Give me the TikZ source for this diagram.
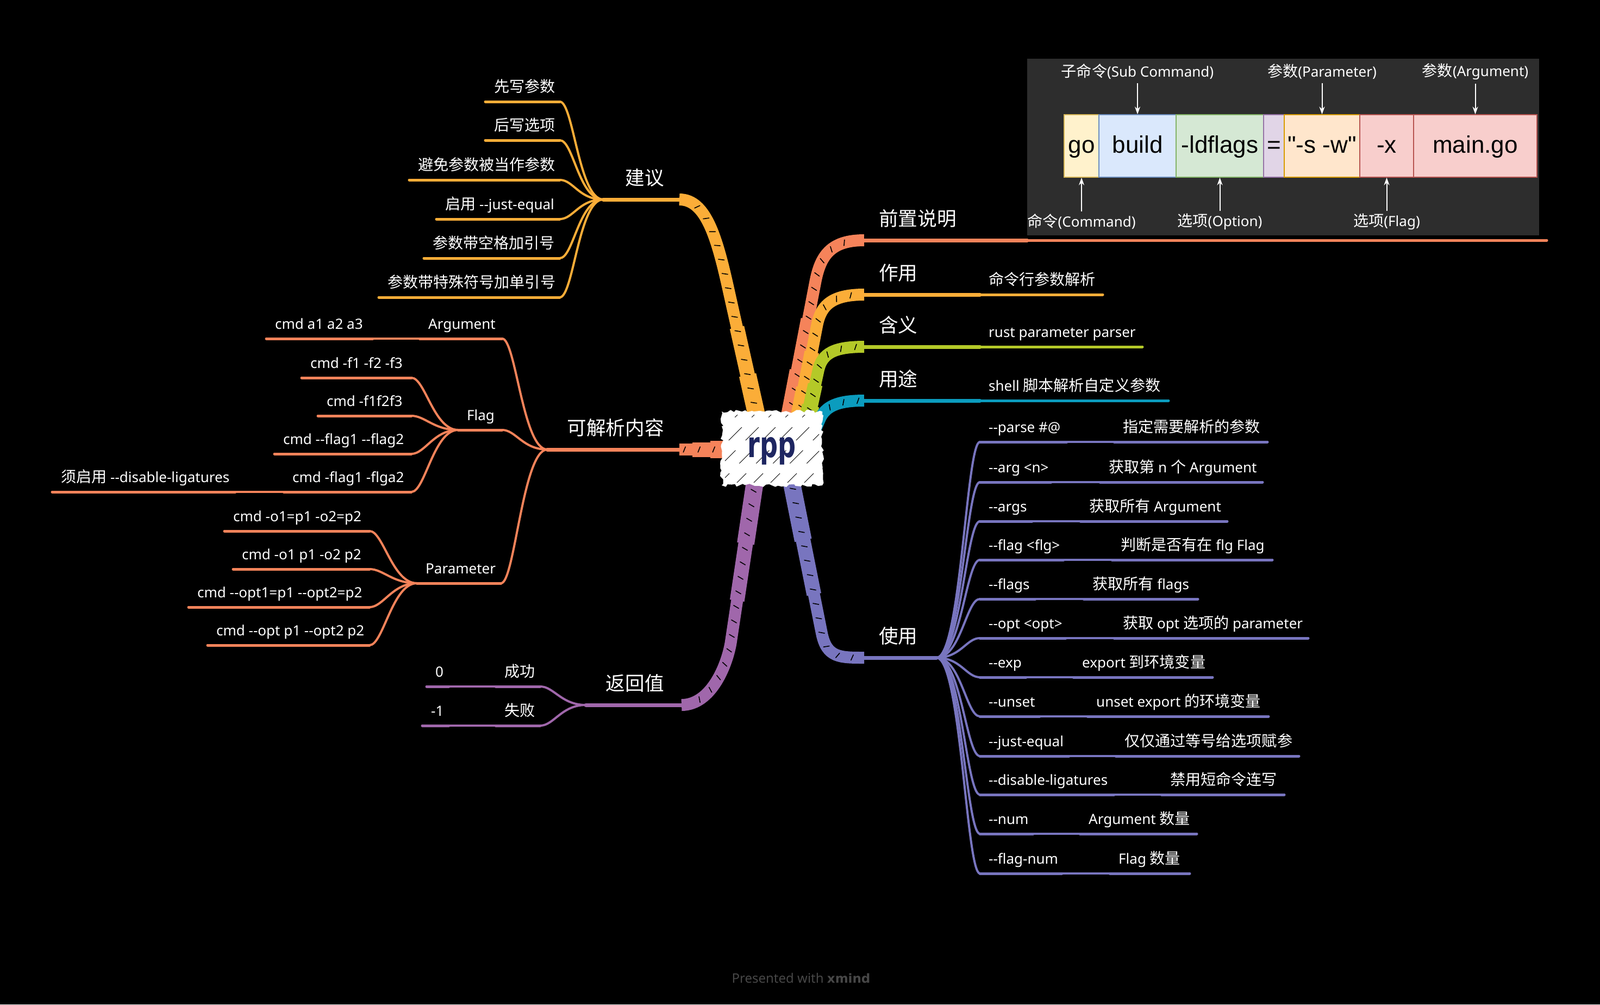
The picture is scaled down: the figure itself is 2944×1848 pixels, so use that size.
\documentclass[tikz,border=0pt]{standalone}
\usepackage{fontspec}
\usetikzlibrary{arrows.meta,calc,decorations.pathmorphing,decorations.markings}
\newfontfamily\lat{Noto Sans}
\newfontfamily\boldf{DejaVu Sans}
\newfontfamily\zhf{Noto Sans CJK SC}[Scale=1.08]
\newfontfamily\ari{Liberation Sans}
\newcommand\zhc[1]{{\zhf #1}}
\definecolor{cRed}{HTML}{F5835A}
\definecolor{cOrg}{HTML}{FBAD38}
\definecolor{cGrn}{HTML}{B4C928}
\definecolor{cTeal}{HTML}{0B9CBE}
\definecolor{cBlu}{HTML}{7875BF}
\definecolor{cPur}{HTML}{A067AB}
\definecolor{navy}{HTML}{1E2661}
\definecolor{imgbg}{HTML}{2D2D2D}
\definecolor{footgray}{HTML}{474747}
\definecolor{goF}{HTML}{FFF2CC}\definecolor{goD}{HTML}{D6B656}
\definecolor{buF}{HTML}{DAE8FC}\definecolor{buD}{HTML}{6C8EBF}
\definecolor{ldF}{HTML}{D5E8D4}\definecolor{ldD}{HTML}{82B366}
\definecolor{eqF}{HTML}{E1D5E7}\definecolor{eqD}{HTML}{9673A6}
\definecolor{swF}{HTML}{FFE6CC}\definecolor{swD}{HTML}{D79B00}
\definecolor{rdF}{HTML}{F8CECC}\definecolor{rdD}{HTML}{B85450}
\tikzset{
  leaf/.style={font=\lat\fontsize{26}{30}\selectfont,text=white,inner sep=0pt},
  topic/.style={font=\lat\fontsize{33}{38}\selectfont,text=white,inner sep=0pt},
  lline/.style={line width=5pt,line cap=round},
  tline/.style={line width=7pt,line cap=round},
  conn/.style={line width=4pt},
  thickb/.style={line width=22pt,line join=round},
  ticks/.style={postaction={decorate,decoration={markings,mark=between positions 0.05 and 0.95 step 27pt with {\draw[black,line width=1.6pt,line cap=round] (-2pt,-5pt)--(2pt,5pt);}}}},
  cell/.style={minimum height=115pt,inner sep=0pt,line width=1.5pt,font=\ari\fontsize{44}{50}\selectfont,text=black,text height=34pt,text depth=9pt},
  imglab/.style={font=\lat\fontsize{26}{30}\selectfont,text=white,inner sep=0pt},
  arr/.style={draw=white,line width=2pt,-{Stealth[length=14pt,width=10pt]}},
}
\newcommand\leafnode[6]{%
  \coordinate (#1-l) at (#2,#4);
  \coordinate (#1-r) at (#3,#4);
  \draw[lline,#5] (#1-l) -- (#1-r);
  \node[leaf,anchor=base west] (#1) at ({#2+16},{#4-18}) {#6};
}
% tapered base of a main branch: colour, start, end of straight part
\newcommand\taperb[3]{%
  \draw[line width=32pt,#1] (#2) -- ($(#2)!0.4!(#3)$);
  \draw[line width=27pt,#1] (#2) -- ($(#2)!0.75!(#3)$);
}
% right-side row of "使用": id, child end, gc start, gc end, y, label, gc label
\newcommand\syrow[7]{%
  \leafnode{sy#1}{1803}{#2}{#5}{cBlu}{#6}
  \leafnode{syg#1}{#3}{#4}{#5}{cBlu}{#7}
  \draw[conn,cBlu] (sy-fork) .. controls +(45,0) and +(-25,0) .. (sy#1-l);
  \draw[conn,cBlu] (sy#1-r) -- (syg#1-l);
}
\begin{document}
\begin{tikzpicture}[x=1pt,y=-1pt]
\fill[black] (0,0) rectangle (2944,1848);
\useasboundingbox (0,0) rectangle (2944,1848);

% ================= main thick branches =================
% 前置说明
\coordinate (qz-0) at (1448,790); \coordinate (qz-1) at (1500,520);
\coordinate (qz-end) at (1590,442);
\taperb{cRed}{qz-0}{qz-1}
\draw[thickb,cRed,ticks] (qz-0) -- (qz-1) .. controls (1509,472) and (1527,442) .. (qz-end);
% 作用
\coordinate (zy-0) at (1466,790); \coordinate (zy-1) at (1503,600);
\coordinate (zy-end) at (1590,542);
\taperb{cOrg}{zy-0}{zy-1}
\draw[thickb,cOrg,ticks] (zy-0) -- (zy-1) .. controls (1510,562) and (1530,542) .. (zy-end);
% 含义
\coordinate (hy-0) at (1482,790); \coordinate (hy-1) at (1506,680);
\coordinate (hy-end) at (1590,638);
\taperb{cGrn}{hy-0}{hy-1}
\draw[thickb,cGrn,ticks] (hy-0) -- (hy-1) .. controls (1513,650) and (1535,638) .. (hy-end);
% 用途
\coordinate (yt-0) at (1496,800); \coordinate (yt-1) at (1508,772);
\coordinate (yt-end) at (1590,737);
\draw[thickb,cTeal,ticks] (yt-0) -- (yt-1) .. controls (1518,748) and (1540,737) .. (yt-end);
% 建议
\coordinate (jy-0) at (1398,790); \coordinate (jy-1) at (1342,540);
\coordinate (jy-end) at (1250,367);
\taperb{cOrg}{jy-0}{jy-1}
\draw[thickb,cOrg,ticks] (jy-0) -- (jy-1) .. controls (1320,440) and (1300,367) .. (jy-end);
% 可解析内容
\coordinate (kj-0) at (1345,827);
\coordinate (kj-end) at (1250,827);
\taperb{cRed}{kj-0}{kj-end}
\draw[thickb,cRed,ticks] (kj-0) -- (kj-end);
% 返回值
\coordinate (fh-0) at (1390,880); \coordinate (fh-1) at (1345,1180);
\coordinate (fh-end) at (1254,1297);
\taperb{cPur}{fh-0}{fh-1}
\draw[thickb,cPur,ticks] (fh-0) -- (fh-1) .. controls (1339,1220) and (1310,1297) .. (fh-end);
% 使用
\coordinate (sy-0) at (1455,880); \coordinate (sy-1) at (1512,1165);
\coordinate (sy-end) at (1590,1210);
\taperb{cBlu}{sy-0}{sy-1}
\draw[thickb,cBlu,ticks] (sy-0) -- (sy-1) .. controls (1521,1210) and (1545,1210) .. (sy-end);

% ================= root =================
\fill[white,decorate,decoration={random steps,segment length=6pt,amplitude=3pt}] (1328,757) rectangle (1513,893);
\begin{scope}
  \clip (1334,763) rectangle (1507,887);
  \foreach \k in {0,...,10} \draw[black,line width=0.8pt,dash pattern=on 34pt off 26pt] ({1225+\k*31},895) -- ++(150,-150);
\end{scope}
\node[font=\boldf\bfseries\fontsize{66}{70}\selectfont,text=navy,anchor=base,inner sep=0pt] (root) at (1420,841) {\scalebox{0.7}[1]{rpp}};

% ================= topic labels =================
\node[topic,anchor=base west] (t-qz) at (1617,415) {\zhc{前置说明}};
\node[topic,anchor=base west] (t-zy) at (1617,515) {\zhc{作用}};
\node[topic,anchor=base west] (t-hy) at (1617,611) {\zhc{含义}};
\node[topic,anchor=base west] (t-yt) at (1617,710) {\zhc{用途}};
\node[topic,anchor=base west] (t-sy) at (1617,1183) {\zhc{使用}};
\node[topic,anchor=base east] (t-jy) at (1222,340) {\zhc{建议}};
\node[topic,anchor=base east] (t-kj) at (1222,800) {\zhc{可解析内容}};
\node[topic,anchor=base east] (t-fh) at (1222,1270) {\zhc{返回值}};

% ================= 前置说明 : image =================
\coordinate (img-l) at (1890,442);
\coordinate (img-r) at (2846,442);
\draw[tline,cRed] (qz-end) -- (img-l);
\draw[lline,cRed] (img-l) -- (img-r);
\node[fill=imgbg,minimum width=942pt,minimum height=325pt,inner sep=0pt,anchor=north west] (imgbox) at (1890,108) {};
\node[cell,draw=goD,fill=goF,minimum width=64pt] (cgo) at (1990,268.5) {go};
\node[cell,draw=buD,fill=buF,minimum width=142pt] (cbuild) at (2093,268.5) {build};
\node[cell,draw=ldD,fill=ldF,minimum width=161pt] (cld) at (2244.5,268.5) {-ldflags};
\node[cell,draw=eqD,fill=eqF,minimum width=38pt] (ceq) at (2344,268.5) {=};
\node[cell,draw=swD,fill=swF,minimum width=139pt] (csw) at (2432.5,268.5) {"-s -w"};
\node[cell,draw=rdD,fill=rdF,minimum width=99pt] (cx) at (2551.5,268.5) {-x};
\node[cell,draw=rdD,fill=rdF,minimum width=227pt] (cmain) at (2714.5,268.5) {main.go};
\node[imglab] (lsub) at (2093,132) {\zhc{子命令}(Sub Command)};
\node[imglab] (lpar) at (2432.5,132) {\zhc{参数}(Parameter)};
\node[imglab] (larg) at (2714.5,132) {\zhc{参数}(Argument)};
\node[imglab] (lcmd) at (1990,408) {\zhc{命令}(Command)};
\node[imglab] (lopt) at (2244.5,408) {\zhc{选项}(Option)};
\node[imglab] (lflg) at (2551.5,408) {\zhc{选项}(Flag)};
\draw[arr] ([yshift=-7pt]lsub.south) -- (lsub.south |- cbuild.north);
\draw[arr] ([yshift=-7pt]lpar.south) -- (lpar.south |- csw.north);
\draw[arr] ([yshift=-7pt]larg.south) -- (larg.south |- cmain.north);
\draw[arr] ([yshift=5pt]lcmd.north) -- (lcmd.north |- cgo.south);
\draw[arr] ([yshift=5pt]lopt.north) -- (lopt.north |- cld.south);
\draw[arr] ([yshift=5pt]lflg.north) -- (lflg.north |- cx.south);

% ================= 作用 / 含义 / 用途 =================
\leafnode{zy1}{1803}{2029}{542}{cOrg}{\zhc{命令行参数解析}}
\draw[tline,cOrg] (zy-end) -- (zy1-l);
\leafnode{hy1}{1803}{2102}{638}{cGrn}{rust parameter parser}
\draw[tline,cGrn] (hy-end) -- (hy1-l);
\leafnode{yt1}{1803}{2150}{737}{cTeal}{shell \zhc{脚本解析自定义参数}}
\draw[tline,cTeal] (yt-end) -- (yt1-l);

% ================= 使用 =================
\coordinate (sy-fork) at (1723,1210);
\draw[tline,cBlu] (sy-end) -- (sy-fork);
\syrow{1}{1963}{2050}{2332}{813}{--parse \#@}{\zhc{指定需要解析的参数}}
\syrow{2}{1934}{2024}{2323}{887}{--arg <n>}{\zhc{获取第} n \zhc{个} Argument}
\syrow{3}{1899}{1988}{2258}{959}{--args}{\zhc{获取所有} Argument}
\syrow{4}{1957}{2046}{2341}{1030}{--flag <flg>}{\zhc{判断是否有在} flg Flag}
\syrow{5}{1905}{1994}{2204}{1102}{--flags}{\zhc{获取所有} flags}
\syrow{6}{1961}{2050}{2407}{1174}{--opt <opt>}{\zhc{获取} opt \zhc{选项的} parameter}
\syrow{7}{1888}{1975}{2231}{1246}{--exp}{export \zhc{到环境变量}}
\syrow{8}{1913}{2001}{2334}{1318}{--unset}{unset export \zhc{的环境变量}}
\syrow{9}{1967}{2053}{2390}{1391}{--just-equal}{\zhc{仅仅通过等号给选项赋参}}
\syrow{10}{2050}{2137}{2363}{1462}{--disable-ligatures}{\zhc{禁用短命令连写}}
\syrow{11}{1901}{1987}{2202}{1534}{--num}{Argument \zhc{数量}}
\syrow{12}{1954}{2042}{2189}{1607}{--flag-num}{Flag \zhc{数量}}

% ================= 建议 =================
\coordinate (jy-fork) at (1110,367);
\draw[tline,cOrg] (jy-end) -- (jy-fork);
\leafnode{j1}{893}{1030}{187}{cOrg}{\zhc{先写参数}}
\leafnode{j2}{893}{1030}{258}{cOrg}{\zhc{后写选项}}
\leafnode{j3}{753}{1030}{331}{cOrg}{\zhc{避免参数被当作参数}}
\leafnode{j4}{803}{1030}{403}{cOrg}{\zhc{启用} --just-equal}
\leafnode{j5}{780}{1030}{475}{cOrg}{\zhc{参数带空格加引号}}
\leafnode{j6}{697}{1030}{547}{cOrg}{\zhc{参数带特殊符号加单引号}}
\foreach \i in {1,...,6} \draw[conn,cOrg] (jy-fork) .. controls +(-45,0) and +(25,0) .. (j\i-r);

% ================= 可解析内容 =================
\coordinate (kj-fork) at (1007,827);
\draw[tline,cRed] (kj-end) -- (kj-fork);
\leafnode{arg}{772}{924}{623}{cRed}{Argument}
\leafnode{argg}{490}{686}{623}{cRed}{cmd a1 a2 a3}
\draw[conn,cRed] (arg-l) -- (argg-r);
\leafnode{flag}{843}{924}{791}{cRed}{Flag}
\leafnode{f1}{555}{757}{695}{cRed}{cmd -f1 -f2 -f3}
\leafnode{f2}{585}{757}{765}{cRed}{cmd -f1f2f3}
\leafnode{f3}{505}{757}{835}{cRed}{cmd --flag1 --flag2}
\leafnode{f4}{522}{757}{905}{cRed}{cmd -flag1 -flga2}
\leafnode{f4g}{96}{433}{905}{cRed}{\zhc{须启用} --disable-ligatures}
\draw[conn,cRed] (f4-l) -- (f4g-r);
\foreach \i in {1,...,4} \draw[conn,cRed] (flag-l) .. controls +(-45,0) and +(25,0) .. (f\i-r);
\leafnode{par}{767}{922}{1073}{cRed}{Parameter}
\leafnode{p1}{413}{680}{977}{cRed}{cmd -o1=p1 -o2=p2}
\leafnode{p2}{429}{680}{1047}{cRed}{cmd -o1 p1 -o2 p2}
\leafnode{p3}{347}{680}{1117}{cRed}{cmd --opt1=p1 --opt2=p2}
\leafnode{p4}{382}{680}{1187}{cRed}{cmd --opt p1 --opt2 p2}
\foreach \i in {1,...,4} \draw[conn,cRed] (par-l) .. controls +(-45,0) and +(25,0) .. (p\i-r);
\foreach \n in {arg,flag,par} \draw[conn,cRed] (kj-fork) .. controls +(-45,0) and +(25,0) .. (\n-r);

% ================= 返回值 =================
\coordinate (fh-fork) at (1078,1297);
\draw[tline,cPur] (fh-end) -- (fh-fork);
\leafnode{fh1}{912}{994}{1263}{cPur}{\zhc{成功}}
\leafnode{fh1g}{785}{826}{1263}{cPur}{0}
\leafnode{fh2}{912}{994}{1335}{cPur}{\zhc{失败}}
\leafnode{fh2g}{777}{826}{1335}{cPur}{-1}
\draw[conn,cPur] (fh1-l) -- (fh1g-r);
\draw[conn,cPur] (fh2-l) -- (fh2g-r);
\foreach \i in {1,2} \draw[conn,cPur] (fh-fork) .. controls +(-45,0) and +(25,0) .. (fh\i-r);

% ================= footer =================
\node[font=\lat\fontsize{24}{28}\selectfont,text=footgray,inner sep=0pt] (foot) at (1474,1800) {Presented with {\boldf\bfseries\fontsize{23}{28}\selectfont xmind}};
\end{tikzpicture}
\end{document}
